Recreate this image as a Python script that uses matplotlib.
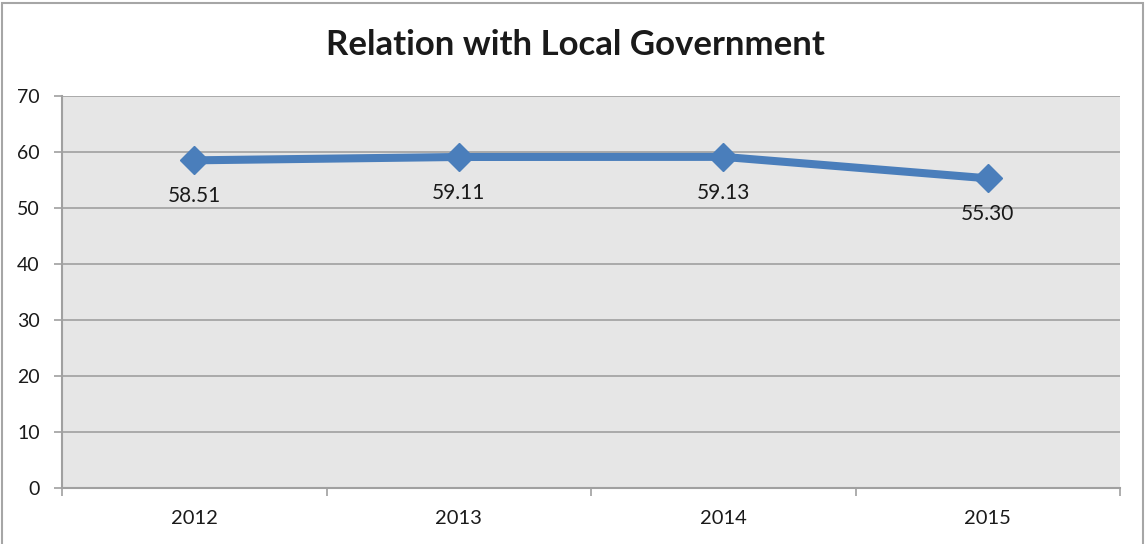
import matplotlib
matplotlib.use("Agg")
from matplotlib import pyplot
from matplotlib.patches import Rectangle
import numpy

years = ["2012", "2013", "2014", "2015"]
scores = [58.51, 59.11, 59.13, 55.30]
score_labels = ["58.51", "59.11", "59.13", "55.30"]

pyplot.rcParams["font.family"] = ["Lato", "DejaVu Sans"]

fig = pyplot.figure(figsize=(11.46, 5.44), dpi=100)
ax = fig.add_axes([62 / 1146, 56 / 544, 1058 / 1146, 392 / 544])

# outer chart border (bottom edge cut off as in the reference)
fig.patches.append(Rectangle((2 / 1146, -0.05), 1141 / 1146, 1.05 - 3 / 544,
                             transform=fig.transFigure, fill=False,
                             edgecolor="#A6A6A6", linewidth=1.5))

x = numpy.arange(len(years))
ax.set_facecolor("#E6E6E6")
ax.plot(x, scores, "-", color="#4A7EBB", linewidth=5.8, marker="D",
        markersize=14, zorder=3)
for xi, v, lab in zip(x, scores, score_labels):
    ax.annotate(lab, (xi, v), xytext=(0, -26), textcoords="offset points",
                ha="center", va="center", fontsize=15, color="#1A1A1A")

ax.set_xlim(-0.5, 3.5)
ax.set_ylim(0, 70)
ax.set_yticks(range(0, 71, 10))
ax.set_xticks(x)
ax.set_xticklabels(years)
ax.set_xticks(numpy.arange(-0.5, 3.6, 1), minor=True)
ax.tick_params(axis="x", which="major", length=0, pad=16, labelsize=14.5,
               labelcolor="#1A1A1A")
ax.tick_params(axis="x", which="minor", length=6, color="#A0A0A0", width=1.2)
ax.tick_params(axis="y", length=6, color="#A0A0A0", width=1.2, pad=10,
               labelsize=14, labelcolor="#1A1A1A")
ax.yaxis.grid(True, color="#A0A0A0", linewidth=1.2)
ax.set_axisbelow(True)
for s in ["top", "right"]:
    ax.spines[s].set_visible(False)
for s in ["left", "bottom"]:
    ax.spines[s].set_color("#A0A0A0")
    ax.spines[s].set_linewidth(1.5)

fig.text(0.502, 0.917, "Relation with Local Government", ha="center",
         va="center", fontsize=25, fontweight="bold", color="#1A1A1A")

pyplot.savefig("out.png")
